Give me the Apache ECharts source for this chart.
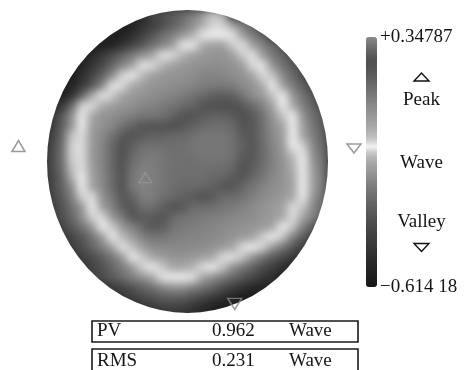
<!DOCTYPE html>
<html><head><meta charset="utf-8">
<script src="https://cdn.jsdelivr.net/npm/echarts@6/dist/echarts.min.js"></script>
<style>
html,body{margin:0;padding:0;background:#fff;}
#wrap{position:relative;width:466px;height:370px;overflow:hidden;background:#fff;}
#base,#over{position:absolute;left:0;top:0;width:466px;height:370px;}
#base{filter:blur(4px);}
</style></head><body>
<div id="wrap"><div id="base"></div><div id="over"></div></div>
<script>
// ---- data ----
const waveMin = -0.61418;
const waveMax = 0.34787;
const scaleTop = '+0.34787';
const scaleBottom = '\u22120.614 18';
const legendWords = ['Peak', 'Wave', 'Valley'];
const tableRows = [['PV', '0.962', 'Wave'], ['RMS', '0.231', 'Wave']];
const peakMarker = [9.3, 16.1];    // [column, row] in map cells
const valleyMarker = [18.2, 28.6];
// first map column of each row of wave values
const rowStartCol = [10, 7, 6, 4, 3, 2, 2, 1, 1, 0, 0, 0, 0, 0, 0, 0, 0, 0, 0, 0, 0, 1, 1, 2, 2, 3, 4, 6, 7, 10];
// wavefront values (waves), one row per map row, top to bottom
const waveRows = [
  [-0.40,-0.36,-0.32,-0.28,-0.23,-0.17,-0.10,-0.12],
  [-0.58,-0.55,-0.49,-0.43,-0.37,-0.31,-0.25,-0.19,-0.13,-0.09,-0.09,-0.15,-0.22,-0.30],
  [-0.59,-0.56,-0.50,-0.42,-0.34,-0.27,-0.22,-0.17,-0.13,-0.08,-0.07,-0.07,-0.08,-0.16,-0.23,-0.30],
  [-0.60,-0.59,-0.55,-0.49,-0.41,-0.33,-0.26,-0.21,-0.16,-0.08,-0.07,-0.01,0.02,0.03,-0.05,-0.08,-0.15,-0.21,-0.28,-0.36],
  [-0.58,-0.52,-0.45,-0.37,-0.29,-0.23,-0.18,-0.14,-0.08,-0.06,-0.02,0.02,0.04,0.05,0.05,0.03,-0.05,-0.08,-0.16,-0.23,-0.30,-0.38],
  [-0.60,-0.55,-0.47,-0.39,-0.29,-0.21,-0.15,-0.08,-0.06,-0.02,0.02,0.04,0.05,0.06,0.07,0.07,0.05,0.03,-0.06,-0.08,-0.18,-0.25,-0.32,-0.39],
  [-0.58,-0.50,-0.40,-0.30,-0.20,-0.09,-0.07,-0.03,0.02,0.04,0.05,0.06,0.07,0.09,0.09,0.09,0.07,0.05,0.02,-0.06,-0.10,-0.20,-0.28,-0.36],
  [-0.60,-0.55,-0.45,-0.34,-0.21,-0.08,-0.06,0.00,0.03,0.05,0.06,0.07,0.08,0.09,0.11,0.12,0.12,0.11,0.08,0.05,0.00,-0.07,-0.15,-0.23,-0.31,-0.39],
  [-0.59,-0.48,-0.30,-0.13,-0.08,-0.05,0.02,0.04,0.05,0.07,0.08,0.10,0.11,0.14,0.16,0.19,0.20,0.19,0.13,0.07,0.04,-0.04,-0.07,-0.17,-0.25,-0.33],
  [-0.55,-0.46,-0.28,-0.09,-0.06,0.00,0.03,0.05,0.06,0.09,0.10,0.12,0.13,0.16,0.18,0.22,0.25,0.25,0.25,0.22,0.16,0.10,0.02,-0.07,-0.13,-0.22,-0.30,-0.37],
  [-0.46,-0.33,-0.18,-0.07,0.01,0.05,0.07,0.09,0.11,0.13,0.13,0.14,0.18,0.22,0.26,0.28,0.29,0.29,0.28,0.25,0.21,0.14,0.05,-0.04,-0.07,-0.18,-0.26,-0.33],
  [-0.44,-0.31,-0.17,-0.07,0.03,0.06,0.09,0.14,0.18,0.22,0.24,0.24,0.25,0.27,0.29,0.30,0.31,0.31,0.30,0.27,0.22,0.15,0.07,0.02,-0.07,-0.15,-0.24,-0.32],
  [-0.41,-0.29,-0.10,-0.06,0.04,0.08,0.14,0.21,0.25,0.28,0.29,0.29,0.30,0.30,0.31,0.32,0.32,0.32,0.31,0.28,0.22,0.15,0.08,0.03,-0.07,-0.14,-0.22,-0.30],
  [-0.39,-0.27,-0.09,-0.06,0.04,0.09,0.17,0.25,0.29,0.31,0.31,0.31,0.31,0.31,0.32,0.32,0.32,0.32,0.31,0.29,0.23,0.16,0.09,0.04,-0.07,-0.09,-0.20,-0.28],
  [-0.37,-0.26,-0.09,-0.06,0.04,0.09,0.17,0.25,0.30,0.32,0.33,0.32,0.31,0.31,0.31,0.32,0.32,0.32,0.31,0.28,0.22,0.16,0.10,0.05,-0.03,-0.07,-0.18,-0.26],
  [-0.37,-0.27,-0.10,-0.06,0.03,0.09,0.17,0.26,0.31,0.33,0.33,0.32,0.31,0.31,0.31,0.31,0.31,0.31,0.30,0.26,0.20,0.15,0.10,0.06,-0.01,-0.07,-0.16,-0.25],
  [-0.39,-0.29,-0.12,-0.07,0.02,0.08,0.16,0.26,0.32,0.34,0.33,0.32,0.31,0.31,0.31,0.31,0.30,0.30,0.28,0.23,0.17,0.13,0.09,0.05,0.01,-0.07,-0.15,-0.24],
  [-0.39,-0.30,-0.19,-0.07,0.02,0.08,0.16,0.26,0.32,0.34,0.33,0.32,0.31,0.30,0.30,0.30,0.29,0.27,0.23,0.17,0.13,0.10,0.07,0.05,0.02,-0.07,-0.15,-0.24],
  [-0.40,-0.32,-0.22,-0.09,-0.06,0.06,0.13,0.22,0.29,0.33,0.33,0.31,0.30,0.29,0.28,0.25,0.21,0.16,0.16,0.14,0.11,0.08,0.06,0.04,0.01,-0.07,-0.17,-0.26],
  [-0.42,-0.35,-0.26,-0.17,-0.07,0.03,0.10,0.20,0.27,0.31,0.31,0.29,0.26,0.22,0.16,0.16,0.15,0.13,0.12,0.10,0.08,0.06,0.04,0.02,-0.06,-0.10,-0.20,-0.28],
  [-0.42,-0.36,-0.28,-0.19,-0.09,-0.06,0.05,0.12,0.23,0.28,0.28,0.24,0.17,0.14,0.13,0.12,0.11,0.10,0.09,0.08,0.07,0.05,0.04,0.01,-0.06,-0.14,-0.22,-0.30],
  [-0.40,-0.33,-0.25,-0.17,-0.07,-0.05,0.04,0.10,0.17,0.21,0.20,0.14,0.12,0.11,0.10,0.09,0.08,0.07,0.06,0.05,0.04,0.01,-0.07,-0.10,-0.22,-0.32],
  [-0.45,-0.40,-0.33,-0.25,-0.17,-0.07,-0.03,0.03,0.10,0.13,0.13,0.11,0.10,0.09,0.09,0.08,0.07,0.05,0.04,0.02,-0.05,-0.07,-0.10,-0.22,-0.32,-0.41],
  [-0.42,-0.36,-0.29,-0.22,-0.15,-0.08,-0.04,0.03,0.07,0.08,0.08,0.08,0.08,0.07,0.06,0.04,0.01,-0.06,-0.07,-0.09,-0.17,-0.24,-0.33,-0.42],
  [-0.46,-0.42,-0.37,-0.31,-0.24,-0.17,-0.07,-0.05,0.00,0.03,0.05,0.05,0.04,0.02,0.00,-0.06,-0.08,-0.10,-0.18,-0.25,-0.32,-0.38,-0.45,-0.50],
  [-0.46,-0.41,-0.35,-0.29,-0.23,-0.17,-0.09,-0.07,-0.05,0.00,0.00,-0.02,-0.06,-0.07,-0.10,-0.18,-0.24,-0.30,-0.37,-0.43,-0.50,-0.55],
  [-0.42,-0.37,-0.32,-0.27,-0.22,-0.18,-0.14,-0.08,-0.07,-0.07,-0.08,-0.14,-0.18,-0.23,-0.28,-0.33,-0.39,-0.45,-0.50,-0.56],
  [-0.45,-0.40,-0.35,-0.30,-0.26,-0.21,-0.18,-0.18,-0.22,-0.25,-0.30,-0.36,-0.42,-0.48,-0.53,-0.57],
  [-0.47,-0.42,-0.38,-0.35,-0.32,-0.31,-0.32,-0.35,-0.39,-0.45,-0.50,-0.56,-0.60,-0.60],
  [-0.45,-0.42,-0.41,-0.43,-0.47,-0.52,-0.57,-0.60]
];

// ---- styling ----
const grayLevels = [24,27,30,34,38,43,47,51,56,60,65,70,75,80,86,93,100,107,114,122,131,140,149,159,170,184,206,245,208,188,175,166,158,150,143,135,127,119,111,104,96,89,84,80,84,96,110,124,138];
const colors = grayLevels.map(g => 'rgb(' + g + ',' + g + ',' + g + ')');
const nCols = 28, nRows = waveRows.length;
const gridBox = {left: 47, top: 10, width: 281, height: 303};
const FONT = '19px "Liberation Serif", "Times New Roman", serif';

const cells = [];
waveRows.forEach((row, r) => row.forEach((v, k) => cells.push([rowStartCol[r] + k, r, v])));

const baseChart = echarts.init(document.getElementById('base'), null, {renderer: 'canvas'});
baseChart.setOption({
  backgroundColor: '#2a2a2a',
  animation: false,
  grid: gridBox,
  xAxis: {type: 'category', data: Array.from({length: nCols}, (_, i) => i), show: false},
  yAxis: {type: 'category', data: Array.from({length: nRows}, (_, i) => i), show: false, inverse: true},
  visualMap: {show: false, min: waveMin, max: waveMax, inRange: {color: colors}},
  series: [{type: 'heatmap', data: cells, itemStyle: {borderWidth: 0}, emphasis: {disabled: true}, silent: true}]
});

// ellipse outline of the aperture (mask)
const cx = 187.5, cy = 161.5, rx = 140.5, ry = 151.5, W = 520;

function tri(x, y, w, h, up, color, lw) {
  const pts = up ? [[x - w / 2, y + h / 2], [x + w / 2, y + h / 2], [x, y - h / 2]]
                 : [[x - w / 2, y - h / 2], [x + w / 2, y - h / 2], [x, y + h / 2]];
  return {type: 'polygon', shape: {points: pts}, style: {fill: 'none', stroke: color, lineWidth: lw, lineJoin: 'miter'}, z: 10, silent: true};
}
function txt(x, y, s, align) {
  return {type: 'text', x: x, y: y, z: 10, silent: true,
    style: {text: s, font: FONT, fill: '#141414', textAlign: align, align: align, textVerticalAlign: 'middle', verticalAlign: 'middle'}};
}

const graphics = [
  {type: 'circle', x: cx, y: cy, scaleY: ry / rx, shape: {cx: 0, cy: 0, r: rx + W / 2},
   style: {fill: 'none', stroke: '#ffffff', lineWidth: W}, z: 1, silent: true},
  tri(18.5, 146, 13, 11, true, '#9a9a9a', 1.5),
  tri(354, 148.5, 14, 9, false, '#9a9a9a', 1.5),
  tri(421.5, 77, 15, 8, true, '#111', 1.4),
  tri(421.5, 247.5, 15, 8, false, '#111', 1.4),
  txt(380, 37, scaleTop, 'left'),
  txt(380, 287, scaleBottom, 'left'),
  txt(421.5, 100, legendWords[0], 'center'),
  txt(421.5, 163, legendWords[1], 'center'),
  txt(421.5, 222, legendWords[2], 'center'),
  {type: 'rect', shape: {x: 92, y: 321, width: 266, height: 21}, style: {fill: 'none', stroke: '#1a1a1a', lineWidth: 1.6}, z: 10, silent: true},
  {type: 'rect', shape: {x: 92, y: 349, width: 266, height: 26}, style: {fill: 'none', stroke: '#1a1a1a', lineWidth: 1.6}, z: 10, silent: true}
];
const rowY = [331.5, 361];
const colX = [97, 212, 289];
tableRows.forEach((row, r) => row.forEach((s, c) => graphics.push(txt(colX[c], rowY[r], s, 'left'))));

const overChart = echarts.init(document.getElementById('over'), null, {renderer: 'canvas'});
overChart.setOption({
  animation: false,
  grid: gridBox,
  xAxis: {type: 'value', min: -0.5, max: nCols - 0.5, show: false},
  yAxis: {type: 'value', min: -0.5, max: nRows - 0.5, inverse: true, show: false},
  visualMap: {
    type: 'continuous', min: waveMin, max: waveMax, seriesIndex: 2,
    left: 366, top: 37, itemWidth: 11, itemHeight: 250, padding: 0,
    calculable: false, hoverLink: false, inRange: {color: colors}
  },
  series: [
    {type: 'scatter', data: [peakMarker], symbol: 'triangle', symbolSize: [13, 10], z: 5, silent: true,
     itemStyle: {color: 'rgba(0,0,0,0)', borderColor: '#959595', borderWidth: 1.3}},
    {type: 'scatter', data: [valleyMarker], symbol: 'triangle', symbolRotate: 180, symbolSize: [14, 11], z: 5, silent: true,
     itemStyle: {color: 'rgba(0,0,0,0)', borderColor: '#8a8a8a', borderWidth: 1.5}},
    {type: 'scatter', data: [], silent: true}
  ],
  graphic: {elements: graphics}
});
</script>
</body></html>
